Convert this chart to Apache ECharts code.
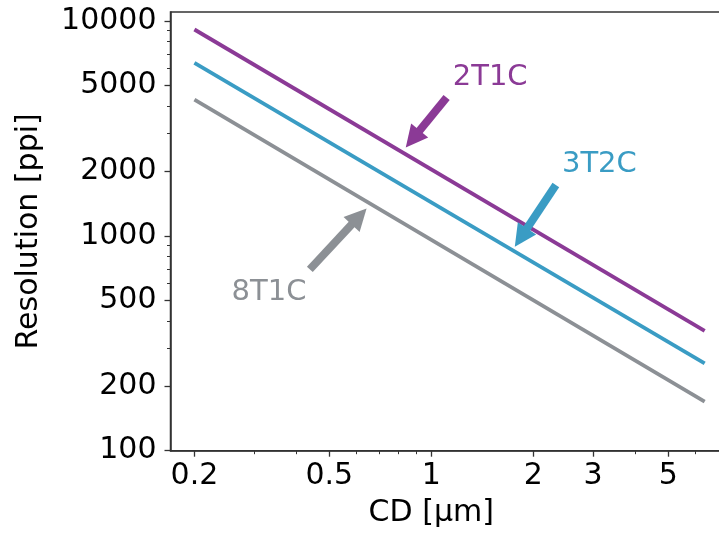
<!DOCTYPE html>
<html>
<head>
<meta charset="utf-8">
<script src="https://cdn.jsdelivr.net/npm/echarts@6/dist/echarts.min.js"></script>
<style>
html,body{margin:0;padding:0;background:#fff;}
#chart{width:719px;height:535px;}
</style>
</head>
<body>
<div id="chart"></div>
<script>
// ---- data ----
const cdValues = [0.2, 6.4];
const res2T1C = [9120, 361];
const res3T2C = [6380, 255];
const res8T1C = [4305, 169];

const xTickLabels = [0.2, 0.5, 1, 2, 3, 5];
const xMinorTicks = [0.3, 0.4, 0.6, 0.7, 0.8, 0.9, 4, 6];
const yTickLabels = [100, 200, 500, 1000, 2000, 5000, 10000];
const yMinorTicks = [300, 400, 600, 700, 800, 900, 3000, 4000, 6000, 7000, 8000, 9000];

const seriesNames = ['2T1C', '3T2C', '8T1C'];
const seriesColors = ['#8B3A96', '#3A9CC4', '#8C9095'];
// annotation arrows (tail -> arrow-head centre) and label anchors, in data coordinates
const arrowTail = [[1.109, 4403], [2.329, 1722], [0.438, 698]];
const arrowHead = [[0.881, 2823], [1.837, 981], [0.612, 1230]];
const labelPos = [[1.491, 5475], [3.130, 2150], [0.332, 546]];

const FONT = 'DejaVu Sans';
const AX = '#333333';
const fmt = v => String(+(+v).toPrecision(6));

const chart = echarts.init(document.getElementById('chart'), null, {renderer: 'canvas'});

const values = [res2T1C, res3T2C, res8T1C];
const series = seriesNames.map((name, i) => ({
  name: name,
  type: 'line',
  xAxisIndex: 0,
  yAxisIndex: 0,
  showSymbol: false,
  symbol: 'none',
  silent: true,
  z: 3,
  lineStyle: {color: seriesColors[i], width: 3.8},
  data: cdValues.map((x, k) => [x, values[i][k]]),
  markLine: {
    silent: true,
    animation: false,
    symbol: ['none', 'triangle'],
    symbolSize: [22, 22],
    label: {show: false},
    lineStyle: {color: seriesColors[i], width: 8, type: 'solid', opacity: 1},
    itemStyle: {color: seriesColors[i]},
    emphasis: {disabled: true},
    data: [[{coord: arrowTail[i]}, {coord: arrowHead[i]}]]
  },
  markPoint: {
    silent: true,
    animation: false,
    symbol: 'circle',
    symbolSize: 1,
    itemStyle: {color: 'rgba(0,0,0,0)'},
    label: {
      show: true,
      position: 'inside',
      formatter: name,
      color: seriesColors[i],
      fontFamily: FONT,
      fontSize: 29
    },
    data: [{coord: labelPos[i]}]
  }
}));

const option = {
  animation: false,
  backgroundColor: '#ffffff',
  grid: {
    left: 170.5, top: 12, width: 551.5, bottom: 84.3,
    outerBoundsMode: 'none',
    containLabel: false,
    show: true, borderColor: AX, borderWidth: 1.5, backgroundColor: 'transparent'
  },
  xAxis: [
    {
      type: 'log', logBase: 10, min: 0.17, max: 7.2,
      position: 'bottom',
      name: 'CD [μm]', nameLocation: 'middle', nameGap: 48,
      nameTextStyle: {fontFamily: FONT, fontSize: 30, color: '#000', padding: [0, 30, 0, 0]},
      axisLine: {show: true, lineStyle: {color: AX, width: 1.5}},
      axisTick: {show: true, customValues: xTickLabels, length: 6, inside: false, lineStyle: {color: AX, width: 1.3}},
      axisLabel: {show: true, customValues: xTickLabels, formatter: fmt, margin: 11,
        fontFamily: FONT, fontSize: 30, color: '#000'},
      splitLine: {show: false},
      minorTick: {show: false}
    },
    {
      type: 'log', logBase: 10, min: 0.17, max: 7.2,
      position: 'bottom',
      axisLine: {show: false},
      axisTick: {show: true, customValues: xMinorTicks, length: 3.5, lineStyle: {color: AX, width: 1}},
      axisLabel: {show: false},
      splitLine: {show: false}
    }
  ],
  yAxis: [
    {
      type: 'log', logBase: 10, min: 100, max: 11000,
      position: 'left',
      name: 'Resolution [ppi]', nameLocation: 'middle', nameGap: 126,
      nameTextStyle: {fontFamily: FONT, fontSize: 30, color: '#000'},
      axisLine: {show: true, lineStyle: {color: AX, width: 1.5}},
      axisTick: {show: true, customValues: yTickLabels, length: 6, lineStyle: {color: AX, width: 1.3}},
      axisLabel: {show: true, customValues: yTickLabels, formatter: fmt, margin: 14,
        fontFamily: FONT, fontSize: 30, color: '#000'},
      splitLine: {show: false}
    },
    {
      type: 'log', logBase: 10, min: 100, max: 11000,
      position: 'left',
      axisLine: {show: false},
      axisTick: {show: true, customValues: yMinorTicks, length: 3.5, lineStyle: {color: AX, width: 1}},
      axisLabel: {show: false},
      splitLine: {show: false}
    }
  ],
  series: series
};

chart.setOption(option);
</script>
</body>
</html>
